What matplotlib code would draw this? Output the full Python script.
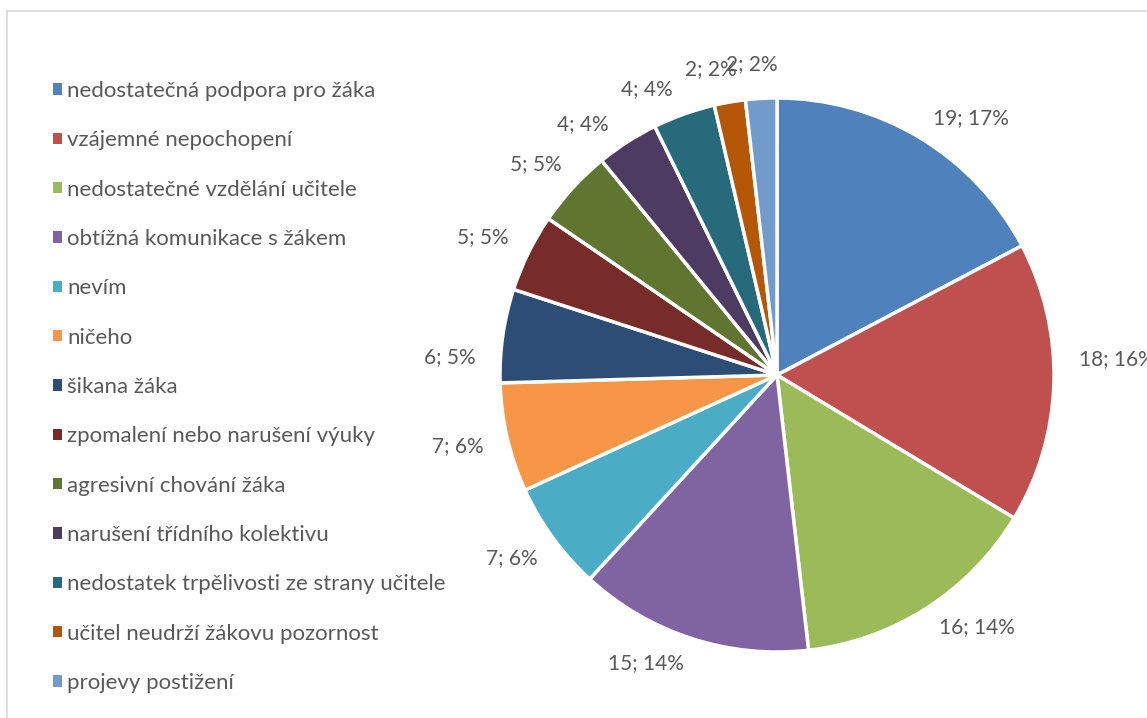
import matplotlib
matplotlib.use("Agg")
import matplotlib.pyplot as plt
from matplotlib.patches import Rectangle
import numpy as np

categories = [
    "nedostatečná podpora pro žáka",
    "vzájemné nepochopení",
    "nedostatečné vzdělání učitele",
    "obtížná komunikace s žákem",
    "nevím",
    "ničeho",
    "šikana žáka",
    "zpomalení nebo narušení výuky",
    "agresivní chování žáka",
    "narušení třídního kolektivu",
    "nedostatek trpělivosti ze strany učitele",
    "učitel neudrží žákovu pozornost",
    "projevy postižení",
]
values = [19, 18, 16, 15, 7, 7, 6, 5, 5, 4, 4, 2, 2]
percent_labels = ["17%", "16%", "14%", "14%", "6%", "6%", "5%", "5%", "5%", "4%", "4%", "2%", "2%"]
colors = ["#4F81BD", "#C0504D", "#9BBB59", "#8064A2", "#4BACC6", "#F79646",
          "#2C4D75", "#772C2A", "#5F7530", "#4D3B62", "#276A7C", "#B65708", "#729ACA"]

# layout only: angular nudge (degrees, clockwise) of each data label, mimicking best-fit placement
label_nudge_deg = [3.6, -4.5, -3.3, 4.6, 0, 0, -4.8, 0, 0, -3.6, -3.8, -1.9, -1.2]

W, H = 1147, 718
fig = plt.figure(figsize=(W / 100, H / 100), dpi=100)
ax = fig.add_axes([0, 0, 1, 1])

cx, cy, R = 777, H - 375, 277
wedges, _ = ax.pie(values, colors=colors, startangle=90, counterclock=False,
                   center=(cx, cy), radius=R,
                   wedgeprops=dict(edgecolor="white", linewidth=2.5))
ax.set_xlim(0, W)
ax.set_ylim(0, H)
ax.set_aspect("equal")
ax.axis("off")

txtcol = "#595959"
font = "Lato"
total = sum(values)
gap = 25
renderer = fig.canvas.get_renderer()
cum = 0
for v, p, nd in zip(values, percent_labels, label_nudge_deg):
    mid = (cum + v / 2) / total * 2 * np.pi + np.radians(nd)
    cum += v
    s, c = np.sin(mid), np.cos(mid)
    t = ax.text(0, 0, f"{v}; {p}", ha="center", va="center", fontsize=15,
                color=txtcol, family=font)
    bb = t.get_window_extent(renderer)
    w, h = bb.width, bb.height
    x = cx + (R + gap) * s + s * w / 2
    y = cy + (R + gap) * c + c * h / 2
    t.set_position((x, y))

leg = ax.legend(wedges, categories, loc="upper left", bbox_to_anchor=(44 / W, 1 - 72 / H),
                frameon=False, handlelength=0.4, handleheight=0.4,
                handletextpad=0.25, labelspacing=1.32, borderaxespad=0,
                prop=dict(family=font, size=16), labelcolor=txtcol)
for hd in leg.legend_handles:
    hd.set_linewidth(0)

fig.patches.append(Rectangle((7 / W, -0.01), 1.1, 1 - 11 / H + 0.01, transform=fig.transFigure,
                             fill=False, edgecolor="#D9D9D9", linewidth=1.2))

fig.savefig("out.png", dpi=100)
